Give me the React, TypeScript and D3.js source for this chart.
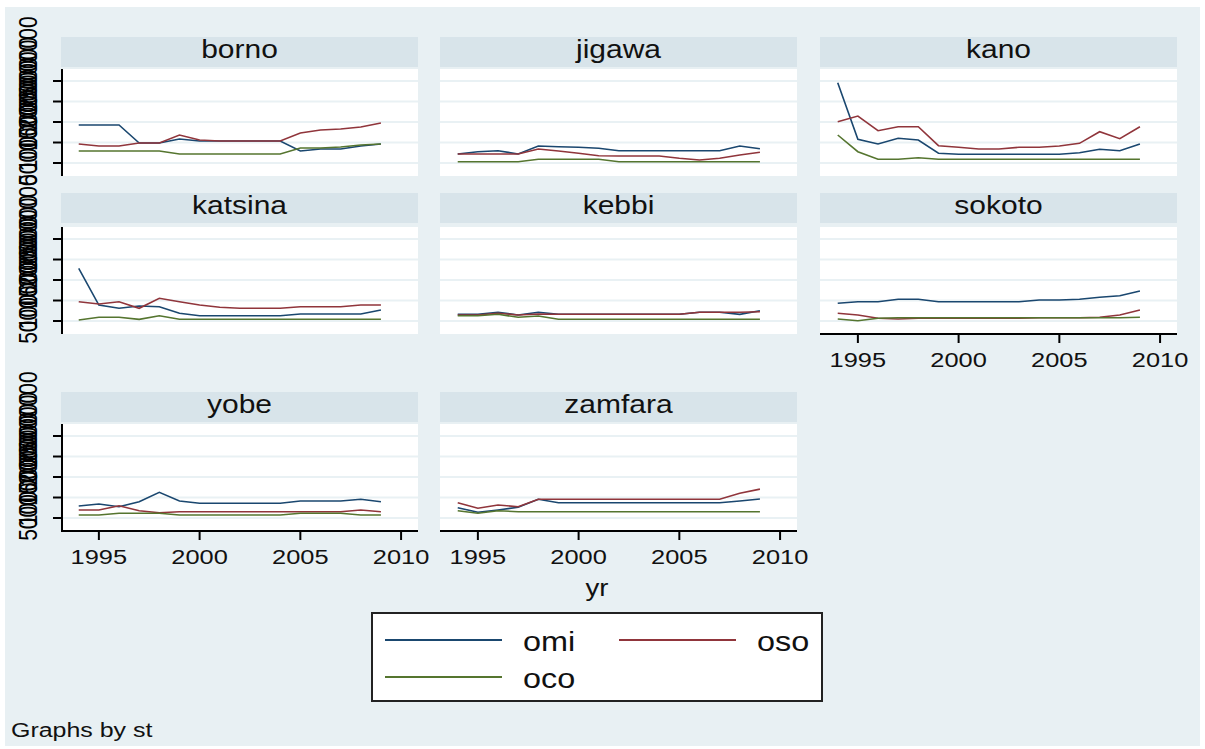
import React from "react";
import * as d3 from "d3";

const years = [1994, 1995, 1996, 1997, 1998, 1999, 2000, 2001, 2002, 2003, 2004, 2005, 2006, 2007, 2008, 2009];
const states = ["borno", "jigawa", "kano", "katsina", "kebbi", "sokoto", "yobe", "zamfara"];
const seriesNames = ["omi", "oso", "oco"];
const seriesColors = ["#1a476f", "#90353b", "#55752f"];
const yTicks = [5, 10, 15, 20, 25]; // millions
const xTicks = [1995, 2000, 2005, 2010];

// values in millions
const bornoOmi = [14.27, 14.27, 14.27, 9.88, 9.88, 10.85, 10.37, 10.37, 10.37, 10.37, 10.37, 7.93, 8.41, 8.41, 9.15, 9.63];
const bornoOso = [9.63, 9.15, 9.15, 9.88, 9.88, 11.83, 10.61, 10.37, 10.37, 10.37, 10.37, 12.32, 13.05, 13.29, 13.78, 14.76];
const bornoOco = [7.93, 7.93, 7.93, 7.93, 7.93, 7.2, 7.2, 7.2, 7.2, 7.2, 7.2, 8.66, 8.66, 8.9, 9.39, 9.63];

const jigawaOmi = [7.2, 7.76, 8.0, 7.2, 9.15, 8.98, 8.83, 8.59, 8.0, 8.0, 8.0, 8.0, 8.0, 8.0, 9.15, 8.49];
const jigawaOso = [7.2, 7.2, 7.2, 7.2, 8.41, 7.93, 7.37, 6.78, 6.71, 6.71, 6.71, 6.15, 5.73, 6.15, 6.95, 7.61];
const jigawaOco = [5.32, 5.32, 5.32, 5.32, 5.9, 5.9, 5.9, 5.9, 5.32, 5.32, 5.32, 5.32, 5.32, 5.32, 5.32, 5.32];

const kanoOmi = [24.59, 10.78, 9.63, 11.02, 10.61, 7.37, 7.12, 7.12, 7.12, 7.12, 7.12, 7.12, 7.51, 8.34, 8.0, 9.63];
const kanoOso = [15.07, 16.46, 12.88, 13.85, 13.85, 9.22, 8.83, 8.41, 8.41, 8.83, 8.83, 9.15, 9.8, 12.63, 10.93, 13.85];
const kanoOco = [11.83, 7.76, 5.9, 5.9, 6.29, 5.9, 5.9, 5.9, 5.9, 5.9, 5.9, 5.9, 5.9, 5.9, 5.9, 5.9];

const katsinaOmi = [17.85, 8.9, 8.1, 8.66, 8.49, 6.88, 6.29, 6.29, 6.29, 6.29, 6.29, 6.71, 6.71, 6.71, 6.71, 7.68];
const katsinaOso = [9.71, 9.15, 9.71, 8.1, 10.54, 9.71, 8.9, 8.34, 8.1, 8.1, 8.1, 8.49, 8.49, 8.49, 8.9, 8.9];
const katsinaOco = [5.24, 5.9, 5.9, 5.41, 6.29, 5.41, 5.41, 5.41, 5.41, 5.41, 5.41, 5.41, 5.41, 5.41, 5.41, 5.41];

const kebbiOmi = [6.63, 6.63, 7.12, 6.46, 7.12, 6.63, 6.63, 6.63, 6.63, 6.63, 6.63, 6.63, 7.12, 7.12, 6.63, 7.51];
const kebbiOso = [6.46, 6.46, 6.88, 6.46, 6.71, 6.63, 6.63, 6.63, 6.63, 6.63, 6.63, 6.63, 7.12, 7.12, 7.12, 7.27];
const kebbiOco = [6.29, 6.29, 6.63, 5.9, 6.22, 5.41, 5.41, 5.41, 5.41, 5.41, 5.41, 5.41, 5.41, 5.41, 5.41, 5.41];

const sokotoOmi = [9.32, 9.71, 9.71, 10.29, 10.29, 9.71, 9.71, 9.71, 9.71, 9.71, 10.12, 10.12, 10.29, 10.78, 11.17, 12.32];
const sokotoOso = [6.88, 6.46, 5.66, 5.49, 5.66, 5.66, 5.66, 5.66, 5.66, 5.66, 5.8, 5.8, 5.8, 5.9, 6.46, 7.68];
const sokotoOco = [5.49, 5.07, 5.66, 5.8, 5.8, 5.8, 5.8, 5.8, 5.8, 5.8, 5.8, 5.8, 5.8, 5.8, 5.8, 5.9];

const yobeOmi = [7.93, 8.41, 7.76, 8.98, 11.27, 9.15, 8.59, 8.59, 8.59, 8.59, 8.59, 9.15, 9.15, 9.15, 9.56, 8.98];
const yobeOso = [6.95, 6.95, 8.0, 6.78, 6.29, 6.54, 6.54, 6.54, 6.54, 6.54, 6.54, 6.54, 6.54, 6.54, 6.95, 6.54];
const yobeOco = [5.73, 5.73, 6.15, 6.15, 6.15, 5.73, 5.73, 5.73, 5.73, 5.73, 5.73, 6.15, 6.15, 6.15, 5.73, 5.73];

const zamfaraOmi = [7.51, 6.39, 6.95, 7.61, 9.56, 8.73, 8.73, 8.73, 8.73, 8.73, 8.73, 8.73, 8.73, 8.73, 9.15, 9.63];
const zamfaraOso = [8.73, 7.37, 8.17, 7.76, 9.56, 9.56, 9.56, 9.56, 9.56, 9.56, 9.56, 9.56, 9.56, 9.56, 11.02, 12.05];
const zamfaraOco = [6.78, 6.15, 6.78, 6.54, 6.54, 6.54, 6.54, 6.54, 6.54, 6.54, 6.54, 6.54, 6.54, 6.54, 6.54, 6.54];

const stateSeries: Record<string, number[][]> = {
  borno: [bornoOmi, bornoOso, bornoOco],
  jigawa: [jigawaOmi, jigawaOso, jigawaOco],
  kano: [kanoOmi, kanoOso, kanoOco],
  katsina: [katsinaOmi, katsinaOso, katsinaOco],
  kebbi: [kebbiOmi, kebbiOso, kebbiOco],
  sokoto: [sokotoOmi, sokotoOso, sokotoOco],
  yobe: [yobeOmi, yobeOso, yobeOco],
  zamfara: [zamfaraOmi, zamfaraOso, zamfaraOco],
};

const W = 1205;
const H = 749;
const colLeft = [61, 440, 820];
const plotW = 357;
const stripTop = [37, 193, 392];
const stripH = 30;
const plotTop = [69, 227, 424];
const plotH = 107;
const FONT = "'Liberation Sans', Arial, Helvetica, sans-serif";
const BG = "#e8f0f3";
const STRIP = "#d8e4ea";
const GRID = "#e9f1f4";

function T(props: {
  x: number; y: number; size: number; sx?: number; anchor?: string; rotate?: number; children: React.ReactNode; fill?: string;
}) {
  const { x, y, size, sx = 1.2, anchor = "middle", rotate, children, fill = "#111" } = props;
  return (
    <text
      transform={`translate(${x},${y}) scale(${sx},1)${rotate !== undefined ? ` rotate(${rotate})` : ""}`}
      fontSize={size}
      fontFamily={FONT}
      textAnchor={anchor}
      fill={fill}
    >
      {children}
    </text>
  );
}

function Panel({ state, idx }: { state: string; idx: number }) {
  const row = Math.floor(idx / 3);
  const col = idx % 3;
  const left = colLeft[col];
  const top = plotTop[row];
  const x = d3.scaleLinear().domain([1993.12, 2010.84]).range([left, left + plotW]);
  const y = d3.scaleLinear().domain([1.83, 27.93]).range([top + plotH, top]);
  const line = d3
    .line<number>()
    .x((_, i) => x(years[i]))
    .y((d) => y(d));
  const showX = state === "sokoto" || state === "yobe" || state === "zamfara";
  const showY = col === 0;
  const bottom = top + plotH;
  return (
    <g>
      <rect x={left} y={stripTop[row]} width={plotW} height={stripH} fill={STRIP} />
      <T x={left + plotW / 2} y={stripTop[row] + 21} size={25} sx={1.2}>
        {state}
      </T>
      <rect x={left} y={top} width={plotW} height={plotH} fill="#fff" />
      {yTicks.map((t) => (
        <line key={t} x1={left} x2={left + plotW} y1={y(t)} y2={y(t)} stroke={GRID} strokeWidth={2} />
      ))}
      {stateSeries[state].map((vals, si) => (
        <path key={si} d={line(vals) || ""} fill="none" stroke={seriesColors[si]} strokeWidth={1.6} />
      ))}
      {showY && (
        <g>
          <line x1={left + 1} x2={left + 1} y1={top} y2={bottom} stroke="#000" strokeWidth={2} />
          {yTicks.map((t) => (
            <g key={t}>
              <line x1={left - 8} x2={left + 1} y1={y(t)} y2={y(t)} stroke="#000" strokeWidth={2} />
              <T x={37} y={y(t) - 18} size={21} sx={1.2} rotate={-90} fill="#000">
                {String(t * 1000000)}
              </T>
            </g>
          ))}
        </g>
      )}
      {showX && (
        <g>
          <line x1={left} x2={left + plotW} y1={bottom} y2={bottom} stroke="#000" strokeWidth={2} />
          {xTicks.map((t) => (
            <g key={t}>
              <line x1={x(t)} x2={x(t)} y1={bottom} y2={bottom + 9} stroke="#000" strokeWidth={2} />
              <T x={x(t)} y={bottom + 33} size={20.5} sx={1.24}>
                {t}
              </T>
            </g>
          ))}
        </g>
      )}
    </g>
  );
}

export default function App() {
  const legendItems = [
    { name: seriesNames[0], color: seriesColors[0], lx: 385, ly: 640 },
    { name: seriesNames[1], color: seriesColors[1], lx: 619, ly: 640 },
    { name: seriesNames[2], color: seriesColors[2], lx: 385, ly: 677 },
  ];
  return (
    <svg width={W} height={H} style={{ position: "absolute", left: 0, top: 0, display: "block" }}>
      <rect x={0} y={0} width={W} height={H} fill="#fff" />
      <rect x={5} y={7} width={1195} height={739} fill={BG} />
      {states.map((s, i) => (
        <Panel key={s} state={s} idx={i} />
      ))}
      <T x={597} y={596} size={23} sx={1.2}>
        yr
      </T>
      <rect x={372} y={613} width={450} height={88} fill="#fff" stroke="#222" strokeWidth={2} />
      {legendItems.map((it) => (
        <g key={it.name}>
          <line x1={it.lx} x2={it.lx + 117} y1={it.ly} y2={it.ly} stroke={it.color} strokeWidth={1.8} />
          <T x={it.lx + 138} y={it.ly + 11} size={27} sx={1.2} anchor="start">
            {it.name}
          </T>
        </g>
      ))}
      <T x={11} y={737} size={19.5} sx={1.28} anchor="start">
        Graphs by st
      </T>
    </svg>
  );
}
